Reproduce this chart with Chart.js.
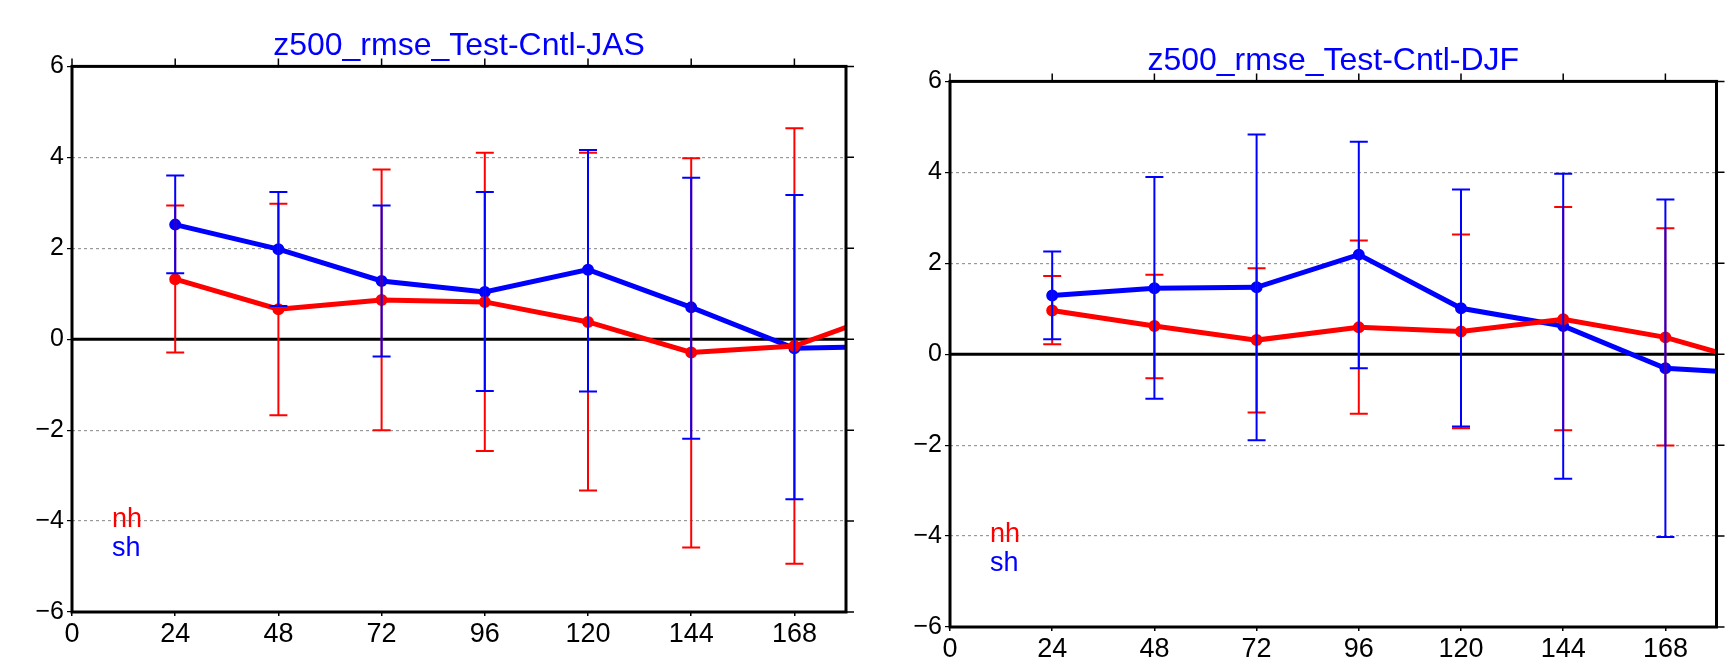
<!DOCTYPE html>
<html>
<head>
  <meta charset="UTF-8">
  <title>z500 rmse Test-Cntl</title>
  <script src="https://cdn.jsdelivr.net/npm/chart.js"></script>
  <style>
    body { margin: 0; background: #fff; }
    canvas { position: absolute; top: 0; }
  </style>
</head>
<body>
<canvas id="jasChart" width="860" height="665" style="left:0"></canvas>
<canvas id="djfChart" width="865" height="665" style="left:860px"></canvas>

<script>
  // forecast lead (hours); the last point lies past the axis end and is clipped
  const leadHours = [24, 48, 72, 96, 120, 144, 168, 192];
  const xTicks = [0, 24, 48, 72, 96, 120, 144, 168];
  const yTicks = [-6, -4, -2, 0, 2, 4, 6];

  // JAS
  const jasNh   = [1.32, 0.66, 0.86, 0.82, 0.38, -0.29, -0.15, 0.67];
  const jasNhHi = [2.94, 2.98, 3.73, 4.10, 4.10, 3.98, 4.64];
  const jasNhLo = [-0.29, -1.67, -2.00, -2.46, -3.33, -4.58, -4.94];
  const jasSh   = [2.52, 1.98, 1.28, 1.04, 1.53, 0.70, -0.20, -0.15];
  const jasShHi = [3.60, 3.24, 2.94, 3.24, 4.16, 3.55, 3.17];
  const jasShLo = [1.45, 0.73, -0.38, -1.14, -1.15, -2.19, -3.52];

  // DJF
  const djfNh   = [0.96, 0.62, 0.31, 0.59, 0.50, 0.77, 0.37, -0.27];
  const djfNhHi = [1.72, 1.75, 1.89, 2.50, 2.63, 3.24, 2.77];
  const djfNhLo = [0.22, -0.53, -1.28, -1.31, -1.63, -1.67, -2.01];
  const djfSh   = [1.29, 1.45, 1.47, 2.19, 1.01, 0.62, -0.31, -0.44];
  const djfShHi = [2.26, 3.90, 4.83, 4.67, 3.62, 3.97, 3.40];
  const djfShLo = [0.33, -0.98, -1.89, -0.31, -1.59, -2.74, -4.02];

  Chart.defaults.font.family = '"Liberation Sans", Arial, sans-serif';
  Chart.defaults.color = '#000';

  function toPoints(vals) {
    return vals.map((v, i) => ({x: leadHours[i], y: v}));
  }

  // zero line, frame and outer ticks on top/right
  const framePlugin = {
    id: 'frame',
    beforeDatasetsDraw(chart) {
      const {ctx, chartArea: a, scales: {y}} = chart;
      const y0 = y.getPixelForValue(0);
      ctx.save();
      ctx.strokeStyle = '#000';
      ctx.lineWidth = 3;
      ctx.beginPath();
      ctx.moveTo(a.left, y0);
      ctx.lineTo(a.right, y0);
      ctx.stroke();
      ctx.restore();
    },
    afterDatasetsDraw(chart) {
      const {ctx, chartArea: a, scales: {x, y}} = chart;
      ctx.save();
      ctx.strokeStyle = '#000';
      ctx.lineWidth = 1.5;
      ctx.beginPath();
      xTicks.forEach(t => {
        const px = x.getPixelForValue(t);
        ctx.moveTo(px, a.top);
        ctx.lineTo(px, a.top - 8);
      });
      yTicks.forEach(t => {
        const py = y.getPixelForValue(t);
        ctx.moveTo(a.right, py);
        ctx.lineTo(a.right + 8, py);
      });
      ctx.stroke();
      ctx.lineWidth = 3;
      ctx.strokeRect(a.left, a.top, a.right - a.left, a.bottom - a.top);
      ctx.restore();
    }
  };

  // vertical error bars with caps
  const errorBarPlugin = {
    id: 'errorBars',
    afterDatasetsDraw(chart) {
      const {ctx, chartArea: a, scales: {x, y}} = chart;
      ctx.save();
      ctx.beginPath();
      ctx.rect(a.left, a.top, a.right - a.left, a.bottom - a.top);
      ctx.clip();
      ctx.lineWidth = 2;
      chart.data.datasets.forEach(ds => {
        ctx.strokeStyle = ds.borderColor;
        ctx.beginPath();
        ds.errHi.forEach((hi, i) => {
          const px = x.getPixelForValue(leadHours[i]);
          const top = y.getPixelForValue(hi);
          const bot = y.getPixelForValue(ds.errLo[i]);
          ctx.moveTo(px, top); ctx.lineTo(px, bot);
          ctx.moveTo(px - 9, top); ctx.lineTo(px + 9, top);
          ctx.moveTo(px - 9, bot); ctx.lineTo(px + 9, bot);
        });
        ctx.stroke();
      });
      ctx.restore();
    }
  };

  // "nh" / "sh" text labels in the lower left corner
  const labelPlugin = {
    id: 'cornerLabels',
    afterDraw(chart) {
      const {ctx, chartArea: a} = chart;
      ctx.save();
      ctx.font = '27px "Liberation Sans", Arial, sans-serif';
      ctx.textAlign = 'left';
      ctx.textBaseline = 'middle';
      chart.data.datasets.forEach((ds, i) => {
        ctx.fillStyle = ds.borderColor;
        ctx.fillText(ds.label, a.left + 40, a.bottom - 92 + i * 29);
      });
      ctx.restore();
    }
  };

  function makeChart(id, titleText, nh, nhHi, nhLo, sh, shHi, shLo, lay) {
    const dataset = (label, color, vals, hi, lo) => ({
      label: label,
      data: toPoints(vals),
      errHi: hi,
      errLo: lo,
      borderColor: color,
      backgroundColor: color,
      borderWidth: 5,
      pointRadius: 3.5,
      pointHoverRadius: 3.5,
      tension: 0
    });

    return new Chart(document.getElementById(id), {
      type: 'line',
      data: {
        datasets: [
          dataset('nh', '#ff0000', nh, nhHi, nhLo),
          dataset('sh', '#0000ff', sh, shHi, shLo)
        ]
      },
      plugins: [framePlugin, errorBarPlugin, labelPlugin],
      options: {
        responsive: false,
        animation: false,
        layout: {padding: {left: 0, right: lay.right, top: 0, bottom: 0}},
        plugins: {
          legend: {display: false},
          tooltip: {enabled: false},
          title: {
            display: true,
            text: titleText,
            color: '#0000ff',
            fullSize: false,
            font: {size: 32, weight: 'normal'},
            padding: {top: lay.titleTop, bottom: 1}
          }
        },
        scales: {
          x: {
            type: 'linear',
            min: 0,
            max: 180,
            afterBuildTicks: s => { s.ticks = xTicks.map(v => ({value: v})); },
            afterFit: s => { s.height = lay.bottom; },
            grid: {drawOnChartArea: false, tickLength: 4, color: '#000', lineWidth: 1.5},
            border: {display: false},
            ticks: {font: {size: 27}, color: '#000', padding: 2, maxRotation: 0}
          },
          y: {
            type: 'linear',
            min: -6,
            max: 6,
            afterBuildTicks: s => { s.ticks = yTicks.map(v => ({value: v})); },
            afterFit: s => { s.width = lay.left; },
            grid: {
              color: c => (c.tick && [0, 6, -6].includes(c.tick.value)) ? 'rgba(0,0,0,0)' : '#999',
              tickColor: '#000',
              lineWidth: 1.2,
              tickLength: 5
            },
            border: {display: false, dash: [3, 3]},
            ticks: {
              font: {size: 25},
              color: '#000',
              padding: 3,
              callback: v => v < 0 ? '\u2212' + Math.abs(v) : String(v)
            }
          }
        }
      }
    });
  }

  makeChart('jasChart', 'z500_rmse_Test-Cntl-JAS',
    jasNh, jasNhHi, jasNhLo, jasSh, jasShHi, jasShLo,
    {left: 72, right: 14, bottom: 53, titleTop: 27});
  makeChart('djfChart', 'z500_rmse_Test-Cntl-DJF',
    djfNh, djfNhHi, djfNhLo, djfSh, djfShHi, djfShLo,
    {left: 90, right: 3, bottom: 38, titleTop: 42});
</script>
</body>
</html>
